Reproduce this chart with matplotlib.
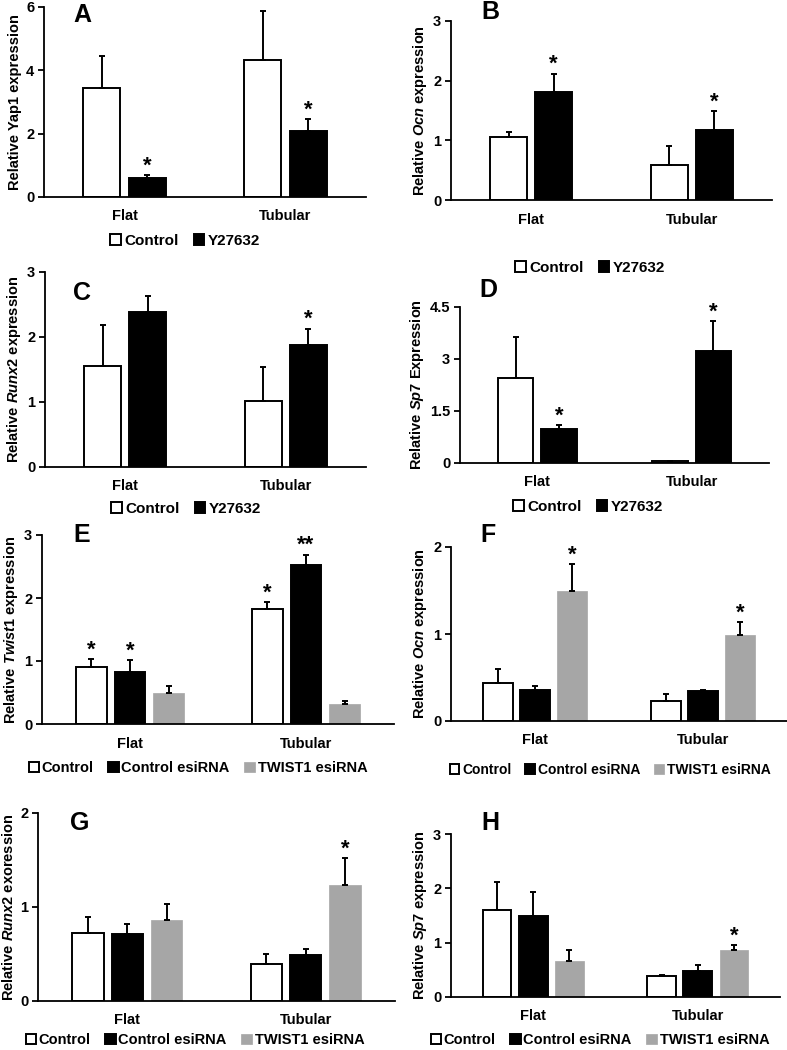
"""Eight bar panels (A-H): relative gene expression, Flat vs Tubular."""
import matplotlib
matplotlib.use("Agg")
import matplotlib.pyplot as plt
import numpy as np

plt.rcParams["font.family"] = "Liberation Sans"
plt.rcParams["font.weight"] = "bold"
plt.rcParams["mathtext.fontset"] = "custom"
plt.rcParams["mathtext.it"] = "Liberation Sans:bold:italic"
plt.rcParams["mathtext.rm"] = "Liberation Sans:bold"
plt.rcParams["mathtext.bf"] = "Liberation Sans:bold"

W, H = 787, 1050

groups = ["Flat", "Tubular"]
series_y = ["Control", "Y27632"]
series_si = ["Control", "Control esiRNA", "TWIST1 esiRNA"]

# values are [series][group]
a_vals = [[3.43, 4.32], [0.60, 2.07]]
a_err = [[1.02, 1.54], [0.08, 0.40]]
a_star = [["", ""], ["*", "*"]]

b_vals = [[1.06, 0.59], [1.81, 1.17]]
b_err = [[0.08, 0.32], [0.31, 0.32]]
b_star = [["", ""], ["*", "*"]]

c_vals = [[1.56, 1.01], [2.38, 1.88]]
c_err = [[0.63, 0.53], [0.25, 0.25]]
c_star = [["", ""], ["", "*"]]

d_vals = [[2.46, 0.05], [0.97, 3.23]]
d_err = [[1.17, 0.0], [0.13, 0.86]]
d_star = [["", ""], ["*", "*"]]

e_vals = [[0.91, 1.83], [0.82, 2.53], [0.50, 0.31]]
e_err = [[0.12, 0.10], [0.20, 0.16], [0.11, 0.06]]
e_star = [["*", "*"], ["*", "**"], ["", ""]]

f_vals = [[0.44, 0.23], [0.36, 0.35], [1.49, 0.99]]
f_err = [[0.16, 0.08], [0.04, 0.01], [0.31, 0.15]]
f_star = [["", ""], ["", ""], ["*", "*"]]

g_vals = [[0.72, 0.39], [0.71, 0.49], [0.86, 1.23]]
g_err = [[0.17, 0.11], [0.11, 0.06], [0.17, 0.29]]
g_star = [["", ""], ["", ""], ["", "*"]]

h_vals = [[1.60, 0.38], [1.50, 0.47], [0.66, 0.87]]
h_err = [[0.52, 0.02], [0.43, 0.12], [0.20, 0.09]]
h_star = [["", ""], ["", ""], ["", "*"]]

GRAY = "#a6a6a6"


def px_rect(x0, x1, y0, y1):
    return [x0 / W, 1 - y1 / H, (x1 - x0) / W, (y1 - y0) / H]


def panel(fig, rect, letter, letter_xy, vals, errs, stars, names, ymax, yticks,
          ylabel, leg_xy, leg_fs=10.5):
    ax = fig.add_axes(px_rect(*rect))
    n = len(vals)
    if n == 2:
        width, offs = 0.23, [-0.14, 0.14]
        styles = [dict(color="white", edgecolor="black", linewidth=1.4),
                  dict(color="black", edgecolor="black", linewidth=1.4)]
    else:
        width, offs = 0.175, [-0.22, 0.0, 0.22]
        styles = [dict(color="white", edgecolor="black", linewidth=1.4),
                  dict(color="black", edgecolor="black", linewidth=1.4),
                  dict(color=GRAY, edgecolor=GRAY, linewidth=0.5)]
    x = np.arange(len(groups))
    for i in range(n):
        xs = x + offs[i]
        ax.bar(xs, vals[i], width, label=names[i], zorder=2, **styles[i])
        ax.errorbar(xs, vals[i], yerr=[np.zeros(len(groups)), errs[i]],
                    fmt="none", ecolor="black", elinewidth=1.4, capsize=2.5,
                    capthick=1.4, zorder=3)
        for j, s in enumerate(stars[i]):
            if s:
                ax.annotate(s, (xs[j], vals[i][j] + errs[i][j]),
                            xytext=(0, 2.5), textcoords="offset points",
                            ha="center", va="baseline", fontsize=16,
                            fontweight="bold")
    ax.set_xlim(-0.5, 1.5)
    ax.set_ylim(0, ymax)
    ax.set_yticks(yticks)
    ax.set_yticklabels([f"{t:g}" for t in yticks])
    ax.set_xticks(x)
    ax.set_xticklabels(groups)
    ax.tick_params(axis="x", length=0, pad=9, labelsize=10.5)
    ax.tick_params(axis="y", length=4, width=1.3, direction="out", pad=3,
                   labelsize=10.5)
    for sp in ["top", "right"]:
        ax.spines[sp].set_visible(False)
    for sp in ["left", "bottom"]:
        ax.spines[sp].set_linewidth(1.3)
    ax.set_ylabel(ylabel, fontsize=10.5, fontweight="bold", labelpad=3)
    fig.text(letter_xy[0] / W, 1 - letter_xy[1] / H, letter, fontsize=18,
             fontweight="bold", ha="center", va="center")
    ax.legend(loc="center", bbox_to_anchor=(leg_xy[0] / W, 1 - leg_xy[1] / H),
              bbox_transform=fig.transFigure, ncol=n, frameon=False,
              fontsize=leg_fs, handlelength=0.7, handleheight=0.7,
              handletextpad=0.2, columnspacing=1.0, borderpad=0)
    return ax


fig = plt.figure(figsize=(W / 100, H / 100), dpi=100)

panel(fig, (44, 366, 7, 197), "A", (82, 15), a_vals, a_err, a_star, series_y,
      6, [0, 2, 4, 6], "Relative Yap1 expression", (185, 241), 11)
panel(fig, (451, 772, 21, 200), "B", (490, 12), b_vals, b_err, b_star, series_y,
      3, [0, 1, 2, 3], r"Relative $Ocn$ expression", (590, 268), 11)
panel(fig, (45, 366, 272, 467), "C", (82, 293), c_vals, c_err, c_star, series_y,
      3, [0, 1, 2, 3], r"Relative $\mathit{Runx2}$ expression", (186, 509), 11)
panel(fig, (460, 769, 307, 463), "D", (488, 290), d_vals, d_err, d_star, series_y,
      4.5, [0, 1.5, 3, 4.5], r"Relative $\mathit{Sp7}$ Expression", (588, 507), 11)
panel(fig, (42, 394, 535, 724), "E", (82, 535), e_vals, e_err, e_star, series_si,
      3, [0, 1, 2, 3], r"Relative $\mathit{Twist1}$ expression", (198, 768))
panel(fig, (451, 787, 547, 721), "F", (488, 535), f_vals, f_err, f_star, series_si,
      2, [0, 1, 2], r"Relative $Ocn$ expression", (610, 770), 10)
panel(fig, (38, 395, 813, 1001), "G", (80, 823), g_vals, g_err, g_star, series_si,
      2, [0, 1, 2], r"Relative $\mathit{Runx2}$ exoression", (195, 1040))
panel(fig, (451, 780, 834, 997), "H", (490, 823), h_vals, h_err, h_star, series_si,
      3, [0, 1, 2, 3], r"Relative $\mathit{Sp7}$ expression", (600, 1040))

fig.savefig("out.png", dpi=100)
